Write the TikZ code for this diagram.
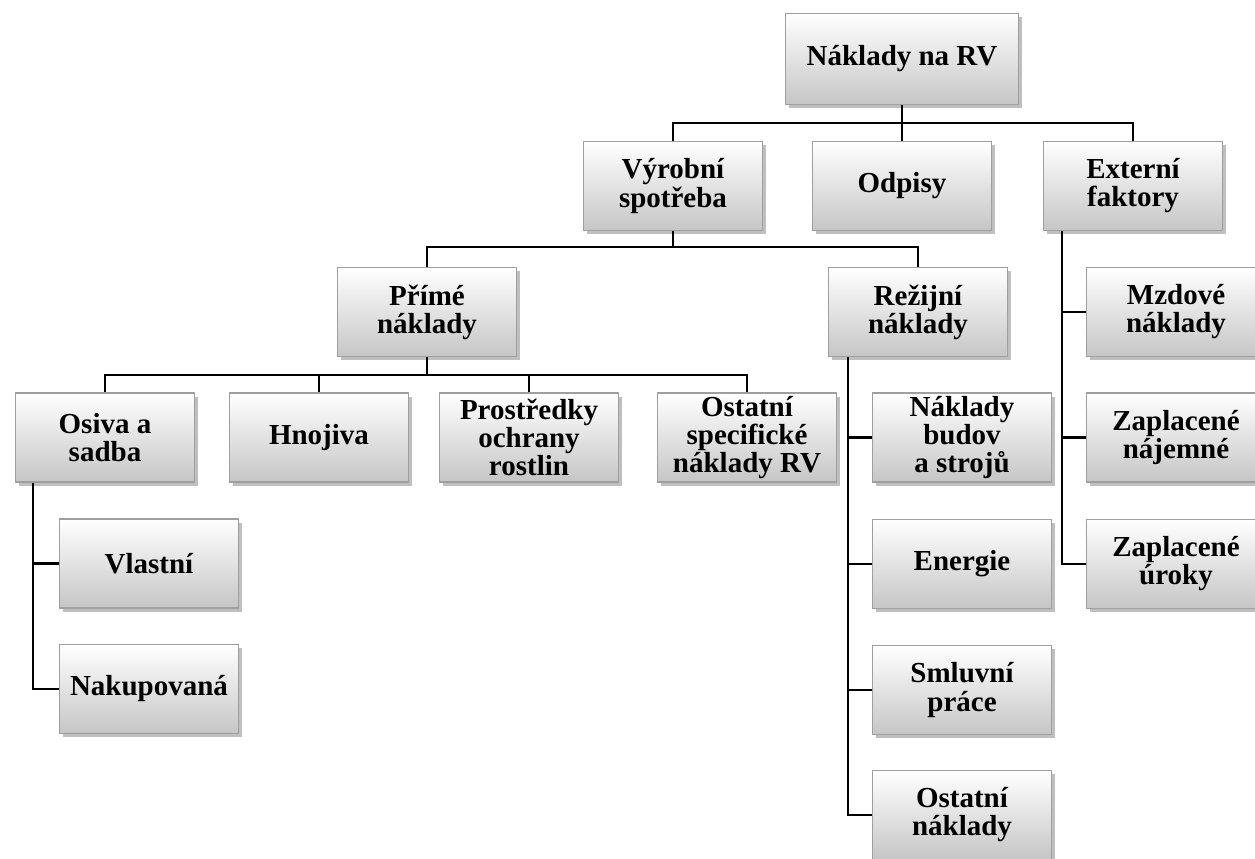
\documentclass[tikz,border=0pt]{standalone}
\usepackage{fontspec}
\setmainfont{Liberation Serif}
\usetikzlibrary{shadows}

\tikzset{
	box/.style={draw=gray!75, line width=0.8pt, top color=white, bottom color=gray!45,
		minimum width=3.58cm, minimum height=1.78cm, inner xsep=2pt, inner ysep=0pt,
		align=center, font=\fontsize{16.5}{16}\selectfont\bfseries,
		drop shadow={shadow xshift=2.2pt, shadow yshift=-2.2pt, fill=black, opacity=0.25}},
	conn/.style={line width=1.5pt, black}
}

\begin{document}
\begin{tikzpicture}
		\useasboundingbox (0,0) rectangle (25.1,17.18);
		
		% top
		\node[box, minimum width=4.66cm, minimum height=1.82cm] (root) at (18.04,16.0) {Náklady na RV};
		
		% first level
		\node[box] (vyr) at (13.46,13.46) {Výrobní\\spotřeba};
		\node[box] (odp) at (18.04,13.46) {Odpisy};
		\node[box] (ext) at (22.66,13.46) {Externí\\faktory};
		
		% second level
		\node[box] (prime) at (8.54,10.94) {Přímé\\náklady};
		\node[box] (rez) at (18.36,10.94) {Režijní\\náklady};
		
		% direct costs
		\node[box] (osiva) at (2.10,8.43) {Osiva a\\sadba};
		\node[box] (hnoj) at (6.38,8.43) {Hnojiva};
		\node[box] (prostr) at (10.58,8.43) {Prostředky\\ochrany\\rostlin};
		\node[box] (ostspec) at (14.94,8.43) {Ostatní\\specifické\\náklady RV};
		
		\node[box] (vlast) at (2.98,5.91) {Vlastní};
		\node[box] (nakup) at (2.98,3.40) {Nakupovaná};
		
		% overhead costs
		\node[box] (budov) at (19.24,8.43) {Náklady\\budov\\a strojů};
		\node[box] (energ) at (19.24,5.90) {Energie};
		\node[box] (smluv) at (19.24,3.38) {Smluvní\\práce};
		\node[box] (ostn) at (19.24,0.88) {Ostatní\\náklady};
		
		% external factors
		\node[box] (mzd) at (23.52,10.94) {Mzdové\\náklady};
		\node[box] (najem) at (23.52,8.43) {Zaplacené\\nájemné};
		\node[box] (urok) at (23.52,5.90) {Zaplacené\\úroky};
		
		% buses
		\coordinate (bus1) at (0,14.72);
		\coordinate (bus2) at (0,12.24);
		\coordinate (bus3) at (0,9.68);
		\coordinate (osx) at (0.66,0);
		\coordinate (rezx) at (16.96,0);
		\coordinate (extx) at (21.24,0);
		
		\draw[conn] (root.south) -- (odp.north);
		\draw[conn] (vyr.north) |- (bus1 -| ext.north) -- (ext.north);
		
		\draw[conn] (vyr.south) -- (vyr.south |- bus2);
		\draw[conn] (prime.north) |- (bus2 -| rez.north) -- (rez.north);
		
		\draw[conn] (prime.south) -- (prime.south |- bus3);
		\draw[conn] (osiva.north) |- (bus3 -| ostspec.north) -- (ostspec.north);
		\draw[conn] (hnoj.north) -- (hnoj.north |- bus3);
		\draw[conn] (prostr.north) -- (prostr.north |- bus3);
		
		\draw[conn] (osiva.south -| osx) |- (nakup.west);
		\draw[conn] (vlast.west -| osx) -- (vlast.west);
		
		\draw[conn] (rez.south -| rezx) |- (ostn.west);
		\draw[conn] (budov.west -| rezx) -- (budov.west);
		\draw[conn] (energ.west -| rezx) -- (energ.west);
		\draw[conn] (smluv.west -| rezx) -- (smluv.west);
		
		\draw[conn] (ext.south -| extx) |- (urok.west);
		\draw[conn] (mzd.west -| extx) -- (mzd.west);
		\draw[conn] (najem.west -| extx) -- (najem.west);
		
	\end{tikzpicture}
\end{document}
